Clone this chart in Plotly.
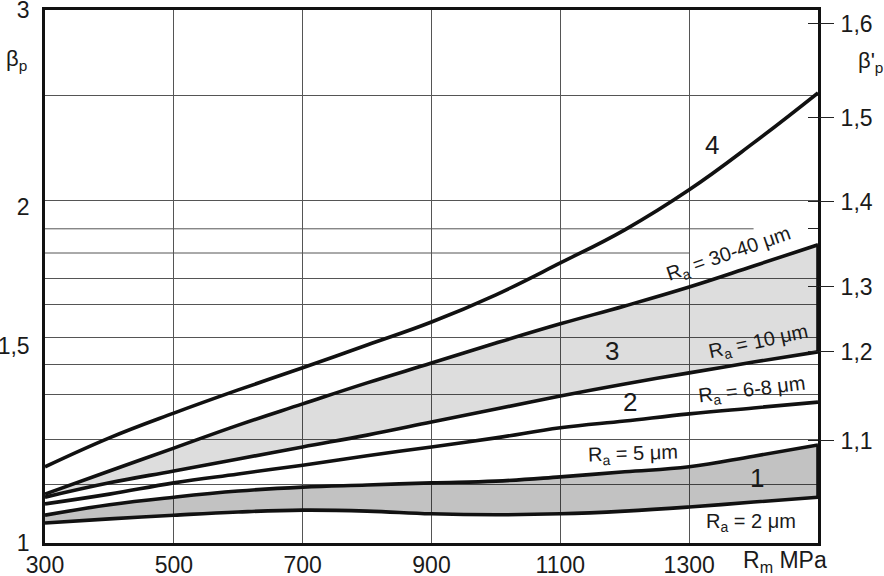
import math
import plotly.graph_objects as go

# ---------------- data ----------------
RM = [300, 400, 500, 600, 700, 800, 900, 1000, 1100, 1200, 1300, 1400, 1500]

CURVE_4 = [1.170, 1.242, 1.307, 1.371, 1.435, 1.504, 1.577, 1.668, 1.781, 1.907, 2.071, 2.281, 2.529]
RA_30_40 = [1.106, 1.160, 1.216, 1.275, 1.332, 1.391, 1.449, 1.510, 1.571, 1.630, 1.695, 1.770, 1.849]
RA_10 = [1.099, 1.132, 1.160, 1.189, 1.219, 1.249, 1.283, 1.318, 1.354, 1.388, 1.420, 1.452, 1.483]
RA_6_8 = [1.084, 1.106, 1.132, 1.153, 1.174, 1.197, 1.219, 1.242, 1.268, 1.286, 1.305, 1.321, 1.337]
RA_5 = [1.059, 1.082, 1.099, 1.113, 1.122, 1.127, 1.132, 1.136, 1.146, 1.158, 1.170, 1.196, 1.224]
RA_2 = [1.042, 1.051, 1.059, 1.066, 1.070, 1.068, 1.062, 1.060, 1.062, 1.068, 1.077, 1.088, 1.099]

X_TICKS = [300, 500, 700, 900, 1100, 1300]
X_TICK_TEXT = ["300", "500", "700", "900", "1100", "1300"]

Y_TICKS = [1, 1.5, 2, 3]
Y_TICK_TEXT = ["1", "1,5", "2", "3"]

# horizontal grid lines (beta_p values) of the nomogram
GRID_Y_FULL = [1.129, 1.239, 1.357, 1.446, 1.526, 1.634, 1.724, 2.024, 2.513]
GRID_Y_PARTIAL = [(1.911, 1400), (1.818, 1300)]  # (beta_p, end Rm)

# secondary scale beta'_p : position expressed on the beta_p scale
BETA_PRIME_POS = [1.234, 1.483, 1.695, 2.020, 2.402, 2.916]
BETA_PRIME_TEXT = ["1,1", "1,2", "1,3", "1,4", "1,5", "1,6"]
BETA_PRIME_EXTRA_TICK = [1.911]

FONT = "Liberation Sans, Arial, sans-serif"
INK = "#1a1a1a"
GRID = "#555555"
LW = 3.6

fig = go.Figure()

SPL = dict(shape="spline", smoothing=1.2)

# ---- shaded bands (fills only) ----
fig.add_trace(go.Scatter(x=RM, y=RA_10, mode="lines", line=dict(width=0, **SPL),
                         hoverinfo="skip", showlegend=False))
fig.add_trace(go.Scatter(x=RM, y=RA_30_40, mode="lines", line=dict(width=0, **SPL),
                         fill="tonexty", fillcolor="rgba(0,0,0,0.135)", hoverinfo="skip", showlegend=False))
fig.add_trace(go.Scatter(x=RM, y=RA_2, mode="lines", line=dict(width=0, **SPL),
                         hoverinfo="skip", showlegend=False))
fig.add_trace(go.Scatter(x=RM, y=RA_5, mode="lines", line=dict(width=0, **SPL),
                         fill="tonexty", fillcolor="rgba(0,0,0,0.24)", hoverinfo="skip", showlegend=False))

# ---- curves ----
for series in [CURVE_4, RA_30_40, RA_10, RA_6_8, RA_5, RA_2]:
    fig.add_trace(go.Scatter(x=RM, y=series, mode="lines",
                             line=dict(color="#111111", width=LW, **SPL),
                             hoverinfo="skip", showlegend=False))

# closing edges of the bands at the right end
fig.add_trace(go.Scatter(x=[RM[-1], RM[-1]], y=[RA_10[-1], RA_30_40[-1]], mode="lines",
                         line=dict(color="#111111", width=LW), hoverinfo="skip", showlegend=False))
fig.add_trace(go.Scatter(x=[RM[-1], RM[-1]], y=[RA_2[-1], RA_5[-1]], mode="lines",
                         line=dict(color="#111111", width=LW), hoverinfo="skip", showlegend=False))

# dummy traces to carry the secondary right axes
fig.add_trace(go.Scatter(x=[RM[0], RM[-1]], y=[1, 3], yaxis="y2", mode="lines",
                         line=dict(width=0), hoverinfo="skip", showlegend=False))
fig.add_trace(go.Scatter(x=[RM[0], RM[-1]], y=[1, 3], yaxis="y3", mode="lines",
                         line=dict(width=0), hoverinfo="skip", showlegend=False))

# partial grid lines
shapes = []
for yv, xend in GRID_Y_PARTIAL:
    shapes.append(dict(type="line", xref="x", yref="y", x0=RM[0], x1=xend, y0=yv, y1=yv,
                       line=dict(color=GRID, width=1), layer="below"))

yr = [0, math.log10(3) + 1e-6]

fig.update_layout(
    width=884, height=576,
    margin=dict(l=45, r=66, t=10, b=33, autoexpand=False),
    plot_bgcolor="white", paper_bgcolor="white",
    showlegend=False,
    font=dict(family=FONT, color=INK),
    shapes=shapes,
    xaxis=dict(range=[RM[0], RM[-1]], tickmode="array", tickvals=X_TICKS, ticktext=X_TICK_TEXT,
               showgrid=True, gridcolor=GRID, gridwidth=1, zeroline=False, automargin=False,
               showline=True, linecolor="#111111", linewidth=2.5, mirror=True,
               ticks="", tickfont=dict(size=23, family=FONT, color=INK), ticklabelstandoff=0,
               ticklabeloverflow="allow"),
    yaxis=dict(type="log", range=yr, tickmode="array", tickvals=Y_TICKS, ticktext=Y_TICK_TEXT,
               showgrid=False, zeroline=False, automargin=False,
               minor=dict(tickmode="array", tickvals=GRID_Y_FULL, showgrid=True,
                          gridcolor=GRID, gridwidth=1, ticks=""),
               showline=True, linecolor="#111111", linewidth=2.5, mirror=True,
               ticks="", tickfont=dict(size=23, family=FONT, color=INK), ticklabelstandoff=8,
               ticklabeloverflow="allow"),
    yaxis2=dict(type="log", range=yr, overlaying="y", side="right", anchor="x", automargin=False,
                tickmode="array", tickvals=BETA_PRIME_POS, ticktext=BETA_PRIME_TEXT,
                ticks="outside", ticklen=15, tickwidth=1.3, tickcolor="#222222",
                showgrid=False, zeroline=False, showline=False, ticklabeloverflow="allow",
                tickfont=dict(size=23, family=FONT, color=INK), ticklabelstandoff=2),
    yaxis3=dict(type="log", range=yr, overlaying="y", side="right", anchor="x", automargin=False,
                tickmode="array", tickvals=BETA_PRIME_POS + BETA_PRIME_EXTRA_TICK,
                ticks="inside", ticklen=10, tickwidth=1.3, tickcolor="#222222",
                showticklabels=False, showgrid=False, zeroline=False, showline=False),
)

def px2paper(px, py):
    return (px - 45) / 773.0, (543 - py) / 533.0

LABELS = [
    ("4", 712, 145, 0, 26),
    ("R<sub>a</sub> = 30-40 μm", 729, 255, -19, 20),
    ("3", 612, 351, 0, 26),
    ("R<sub>a</sub> = 10 μm", 758, 342, -12, 20),
    ("2", 630, 402, 0, 26),
    ("R<sub>a</sub> = 6-8 μm", 752, 390, -7, 20),
    ("R<sub>a</sub> = 5 μm", 633, 454, -2, 20),
    ("1", 757, 478, 0, 26),
    ("R<sub>a</sub> = 2 μm", 751, 522, 0, 20),
    ("R<sub>m</sub> MPa", 785, 561, 0, 23),
    ("β<sub>p</sub>", 16, 60, 0, 22),
    ("β'<sub>p</sub>", 870, 62, 0, 22),
]
for text, px, py, ang, size in LABELS:
    xp, yp = px2paper(px, py)
    fig.add_annotation(x=xp, y=yp, xref="paper", yref="paper", text=text, showarrow=False,
                       textangle=ang, font=dict(size=size, family=FONT, color=INK),
                       xanchor="center", yanchor="middle")

fig.write_html("out.html")
